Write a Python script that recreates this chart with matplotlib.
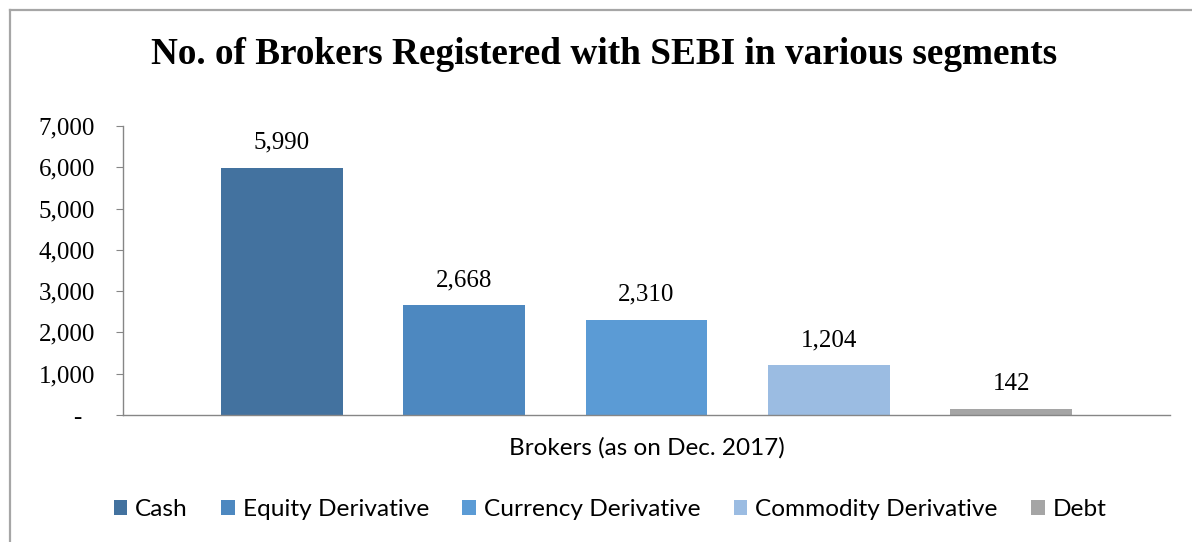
import matplotlib
matplotlib.use("Agg")
import matplotlib.pyplot as plt
from matplotlib.lines import Line2D
from matplotlib.ticker import FuncFormatter

categories = ["Cash", "Equity Derivative", "Currency Derivative", "Commodity Derivative", "Debt"]
values = [5990, 2668, 2310, 1204, 142]
colors = ["#43729F", "#4D88C0", "#5B9BD5", "#9BBCE2", "#A5A5A5"]
yticks = [0, 1000, 2000, 3000, 4000, 5000, 6000, 7000]
title = "No. of Brokers Registered with SEBI in various segments"
xlabel = "Brokers (as on Dec. 2017)"

W, H = 1192, 542
fig = plt.figure(figsize=(W / 100, H / 100), dpi=100)
ax = fig.add_axes([123 / W, 1 - 415 / H, (1170 - 123) / W, (415 - 126) / H])

serif = "Liberation Serif"
sans = "Lato"

handles = []
for i, (c, v, col) in enumerate(zip(categories, values, colors)):
    b = ax.bar(i, v, width=0.668, color=col, label=c, zorder=2)
    handles.append(b)
    ax.annotate(f"{v:,}", (i, v), xytext=(0, 10), textcoords="offset points",
                ha="center", va="bottom", fontsize=18, family=serif)

ax.set_xlim(-0.87, 4.87)
ax.set_ylim(0, 7000)
ax.set_yticks(yticks)
ax.yaxis.set_major_formatter(FuncFormatter(lambda v, p: "-  " if v == 0 else f"{int(v):,}"))
for lab in ax.get_yticklabels():
    lab.set_family(serif)
    lab.set_fontsize(18)
ax.tick_params(axis="y", direction="out", length=5, color="#868686", pad=15)
ax.set_xticks([])
for s in ["top", "right"]:
    ax.spines[s].set_visible(False)
for s in ["left", "bottom"]:
    ax.spines[s].set_color("#868686")
    ax.spines[s].set_linewidth(1.0)

ax.set_xlabel(xlabel, fontsize=17.5, family=sans, labelpad=16)

fig.text(604 / W, 1 - 54 / H, title, ha="center", va="center",
         fontsize=26.8, fontweight="bold", family=serif)

fig.legend(handles=handles, labels=categories, loc="center", bbox_to_anchor=(610 / W, 1 - 510 / H),
           ncol=5, frameon=False, prop={"family": sans, "size": 17.6},
           handlelength=0.57, handleheight=0.57, handletextpad=0.32, columnspacing=1.35)

# outer frame (left and top edges)
fig.add_artist(Line2D([10 / W, 10 / W], [0, 1 - 10 / H], transform=fig.transFigure,
                      color="#A6A6A6", lw=1.6))
fig.add_artist(Line2D([10 / W, 1], [1 - 10 / H, 1 - 10 / H], transform=fig.transFigure,
                      color="#A6A6A6", lw=1.6))

fig.savefig("out.png", dpi=100)
